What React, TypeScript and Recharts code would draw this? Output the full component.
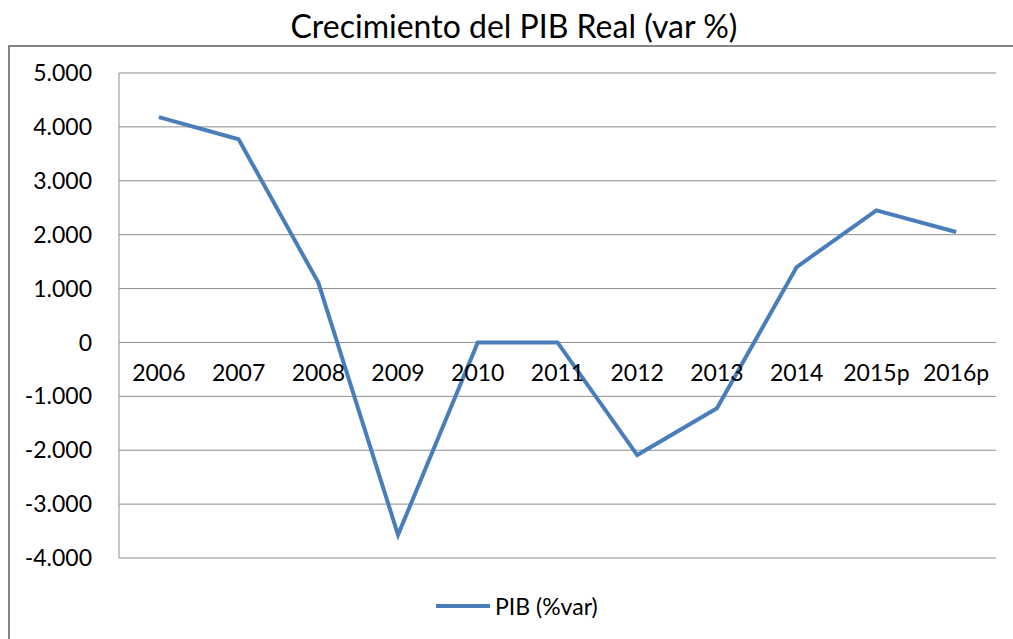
import React from "react";
import { LineChart, Line, XAxis, YAxis, CartesianGrid } from "recharts";

const years = ["2006", "2007", "2008", "2009", "2010", "2011", "2012", "2013", "2014", "2015p", "2016p"];
const pib = [4.18, 3.77, 1.11, -3.57, 0.0, 0.0, -2.09, -1.22, 1.4, 2.45, 2.05];
const yTicks = [-4, -3, -2, -1, 0, 1, 2, 3, 4, 5];
const seriesName = "PIB (%var)";
const title = "Crecimiento del PIB Real (var %)";

const data = years.map((y, i) => ({ year: y, pib: pib[i] }));

const W = 1013;
const H = 639;
const X_AXIS_H = 20;
const M = { top: 73, right: 17, bottom: 81 - X_AXIS_H, left: 0 };
const Y_MIN = -4;
const Y_MAX = 5;
const plotH = H - M.top - M.bottom - X_AXIS_H;
const zeroShift = plotH * (0 - Y_MIN) / (Y_MAX - Y_MIN);

const FONT = "Lato, 'Open Sans', sans-serif";
const LINE_COLOR = "#4a7ebb";

const fmt = (v: number) => (v === 0 ? "0" : v.toFixed(3));

const XTick = (props: any) => {
  const { x, y, payload } = props;
  return (
    <text
      x={x}
      y={y - zeroShift + 39}
      textAnchor="middle"
      fill="#000"
      fontSize={23}
      fontFamily={FONT}
    >
      {payload.value}
    </text>
  );
};

export default function App() {
  return (
    <div style={{ position: "absolute", left: 0, top: 0, width: W, height: H, background: "#fff", overflow: "hidden" }}>
      <div
        style={{
          position: "absolute",
          left: 8,
          top: 45,
          width: W + 20,
          height: H,
          border: "2px solid #858585",
          boxSizing: "border-box",
        }}
      />
      <div
        style={{
          position: "absolute",
          left: 0,
          top: 6,
          width: 1028,
          textAlign: "center",
          fontFamily: FONT,
          fontSize: 32,
          color: "#000",
          lineHeight: "40px",
        }}
      >
        {title}
      </div>
      <div style={{ position: "absolute", left: 0, top: 0 }}>
        <LineChart width={W} height={H} data={data} margin={M}>
          <CartesianGrid horizontal={true} vertical={false} stroke="#8c8c8c" strokeWidth={1} />
          <XAxis
            dataKey="year"
            scale="band"
            height={X_AXIS_H}
            axisLine={false}
            tickLine={false}
            tickSize={0}
            tickMargin={0}
            interval={0}
            tick={<XTick />}
          />
          <YAxis
            domain={[Y_MIN, Y_MAX]}
            ticks={yTicks}
            width={119}
            tickFormatter={fmt}
            axisLine={{ stroke: "#8c8c8c", strokeWidth: 1 }}
            tickLine={false}
            tickSize={6}
            tickMargin={21}
            tick={{ fill: "#000", fontSize: 23, fontFamily: FONT }}
            interval={0}
          />
          <Line
            type="linear"
            dataKey="pib"
            name={seriesName}
            stroke={LINE_COLOR}
            strokeWidth={4}
            dot={false}
            activeDot={false}
            isAnimationActive={false}
          />
        </LineChart>
      </div>
      <div
        style={{
          position: "absolute",
          left: 436,
          top: 592,
          display: "flex",
          alignItems: "center",
          fontFamily: FONT,
          fontSize: 23,
          color: "#000",
          lineHeight: "28px",
        }}
      >
        <svg width={56} height={10} style={{ marginRight: 3 }}>
          <line x1={0} y1={5} x2={54} y2={5} stroke={LINE_COLOR} strokeWidth={4} />
        </svg>
        <span>{seriesName}</span>
      </div>
    </div>
  );
}
